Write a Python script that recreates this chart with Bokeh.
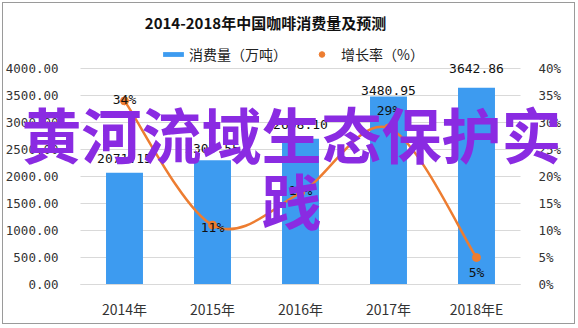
from bokeh.plotting import figure
from bokeh.models import (Range1d, LinearAxis, FixedTicker, NumeralTickFormatter,
                          PrintfTickFormatter, Legend, LegendItem, Label, ColumnDataSource)
from bokeh.core.properties import value
from bokeh.embed import file_html
from bokeh.resources import INLINE

# ---- data ----
years = ["2014年", "2015年", "2016年", "2017年", "2018年E"]
consumption = [2071.15, 2300.55, 2698.10, 3480.95, 3642.86]
growth = [34, 11, 17, 29, 5]
left_ticks = [0, 500, 1000, 1500, 2000, 2500, 3000, 3500, 4000]
right_ticks = [0, 5, 10, 15, 20, 25, 30, 35, 40]
title_text = "2014-2018年中国咖啡消费量及预测"
series_names = ["消费量（万吨）", "增长率（%）"]
overlay_lines = ["黄河流域生态保护实", "践"]

# style-only offsets (pixels, up positive)
bar_label_offsets = [14, 12, 14, 6, 19]
growth_label_offsets = [1, -2, 2, 17, -15]

BLUE = "#3D9BF0"
ORANGE = "#ED7D31"
TXT = "#333333"
MONO = "DejaVu Sans Mono"
CJK = "Noto Sans CJK SC"

# ---- layout geometry (pixels inside the bordered box) ----
W, H = 573, 322
CAT_PX = 88.0          # pixels per category
CAT0_PX = 121.0        # pixel x of first category
BASE_PX = 41.0         # pixel height of value 0 above box bottom
PX_PER_VAL = 216.0 / 4000.0
PCT_SCALE = 100.0      # 4000 <-> 40 %

idx = list(range(len(years)))
x_lo, x_hi = -0.5, len(years) - 0.5

xr = Range1d(-CAT0_PX / CAT_PX, (W - CAT0_PX) / CAT_PX)
y0v = -BASE_PX / PX_PER_VAL
y1v = (H - BASE_PX) / PX_PER_VAL
p = figure(width=W, height=H, x_range=xr, y_range=Range1d(y0v, y1v),
           output_backend="svg", toolbar_location=None,
           min_border=0, min_border_left=0, min_border_right=0,
           min_border_top=0, min_border_bottom=0,
           background_fill_color="white", border_fill_color="white")
p.styles = {"border": "1px solid #9a9a9a", "margin": "2px 0 0 2px"}
p.outline_line_color = None
p.extra_y_ranges = {"pct": Range1d(y0v / PCT_SCALE, y1v / PCT_SCALE)}

# grid limited to the plot area
p.xgrid.grid_line_color = None
p.ygrid.ticker = FixedTicker(ticks=left_ticks)
try:
    p.ygrid.cross_bounds = (x_lo, x_hi)
    p.ygrid.grid_line_color = "#D9D9D9"
except Exception:
    p.ygrid.grid_line_color = None
    p.segment(x0=x_lo, x1=x_hi, y0=left_ticks, y1=left_ticks,
              line_color="#D9D9D9", line_width=1, level="underlay")

# left axis, drawn at the left edge of the plot area
ly = p.yaxis[0]
ly.fixed_location = x_lo
ly.bounds = (left_ticks[0], left_ticks[-1])
ly.ticker = FixedTicker(ticks=left_ticks)
ly.formatter = NumeralTickFormatter(format="0.00")
ly.axis_line_color = None
ly.major_tick_line_color = None
ly.minor_tick_line_color = None
ly.major_label_text_font = MONO
ly.major_label_text_font_size = "12.5px"
ly.major_label_text_color = TXT
ly.major_label_standoff = 16

# right axis
ry = LinearAxis(y_range_name="pct", ticker=FixedTicker(ticks=right_ticks),
                formatter=PrintfTickFormatter(format="%d%%"),
                fixed_location=x_hi, bounds=(right_ticks[0], right_ticks[-1]))
ry.axis_line_color = None
ry.major_tick_line_color = None
ry.minor_tick_line_color = None
ry.major_label_text_font = MONO
ry.major_label_text_font_size = "12.5px"
ry.major_label_text_color = TXT
ry.major_label_standoff = 12
p.add_layout(ry, "right")

# x axis at value 0
xa = p.xaxis[0]
xa.fixed_location = 0
xa.bounds = (x_lo, x_hi)
xa.ticker = FixedTicker(ticks=idx)
xa.major_label_overrides = {i: y for i, y in zip(idx, years)}
xa.axis_line_color = "#D9D9D9"
xa.major_tick_line_color = None
xa.minor_tick_line_color = None
xa.major_label_text_font = CJK
xa.major_label_text_font_size = "14px"
xa.major_label_text_color = TXT
xa.major_label_standoff = 8

# bars
bars = p.vbar(x=idx, top=consumption, bottom=0, width=0.42, fill_color=BLUE, line_color=None)

# smoothed growth line (cubic bezier through the data points)
n = len(growth)
x0s, y0s, x1s, y1s, cx0s, cy0s, cx1s, cy1s = [], [], [], [], [], [], [], []
for i in range(n - 1):
    a = max(i - 1, 0)
    d = min(i + 2, n - 1)
    x0s.append(idx[i]); y0s.append(growth[i])
    x1s.append(idx[i + 1]); y1s.append(growth[i + 1])
    cx0s.append(idx[i] + (idx[i + 1] - idx[a]) / 6.0)
    cy0s.append(growth[i] + (growth[i + 1] - growth[a]) / 6.0)
    cx1s.append(idx[i + 1] - (idx[d] - idx[i]) / 6.0)
    cy1s.append(growth[i + 1] - (growth[d] - growth[i]) / 6.0)
p.bezier(x0=x0s, y0=y0s, x1=x1s, y1=y1s, cx0=cx0s, cy0=cy0s, cx1=cx1s, cy1=cy1s,
         line_color=ORANGE, line_width=2.5, y_range_name="pct")
marks = p.scatter(x=idx, y=growth, size=8, fill_color=ORANGE, line_color=ORANGE,
                  y_range_name="pct")

# data labels
bar_src = ColumnDataSource(dict(x=idx, y=consumption,
                                t=["%.2f" % v for v in consumption],
                                off=[-o for o in bar_label_offsets]))
p.text(x="x", y="y", text="t", y_offset="off", source=bar_src,
       text_align="center", text_baseline="middle", text_font=value(MONO),
       text_font_size="13px", text_color="#111111")
gr_src = ColumnDataSource(dict(x=idx, y=growth, t=["%d%%" % g for g in growth],
                               off=[-o for o in growth_label_offsets]))
p.text(x="x", y="y", text="t", y_offset="off", source=gr_src, y_range_name="pct",
       text_align="center", text_baseline="middle", text_font=value(MONO),
       text_font_size="13px", text_color="#111111")

# title (screen px inside the box, y measured upward from the bottom)
p.add_layout(Label(x=262, y=H - 19, x_units="screen", y_units="screen", text=title_text,
                   text_align="center", text_baseline="middle", text_font=CJK,
                   text_font_size="15px", text_font_style="bold", text_color="#111111"))

# legends
line_proxy = p.line(x=[], y=[], line_color=ORANGE, line_width=2.5, y_range_name="pct")
common = dict(padding=0, margin=0, label_standoff=3, border_line_color=None,
              background_fill_alpha=0, label_text_font=CJK, label_text_font_size="14px",
              label_text_color="#222222")
lg1 = Legend(items=[LegendItem(label=series_names[0], renderers=[bars], index=0)],
             location=(157, H - 61), glyph_width=26, glyph_height=6, **common)
lg2 = Legend(items=[LegendItem(label=series_names[1], renderers=[line_proxy, marks], index=0)],
             location=(302, H - 61), glyph_width=33, glyph_height=14, **common)
p.add_layout(lg1, "center")
p.add_layout(lg2, "center")

# overlay text
for ln, yy in zip(overlay_lines, [H - 129, H - 195]):
    p.add_layout(Label(x=288, y=yy, x_units="screen", y_units="screen", text=ln,
                       text_align="center", text_baseline="middle", text_font=CJK,
                       text_font_style="bold", text_font_size="60px",
                       text_color="#8A2BE2"))

open("out.html", "w").write(file_html(p, INLINE))
